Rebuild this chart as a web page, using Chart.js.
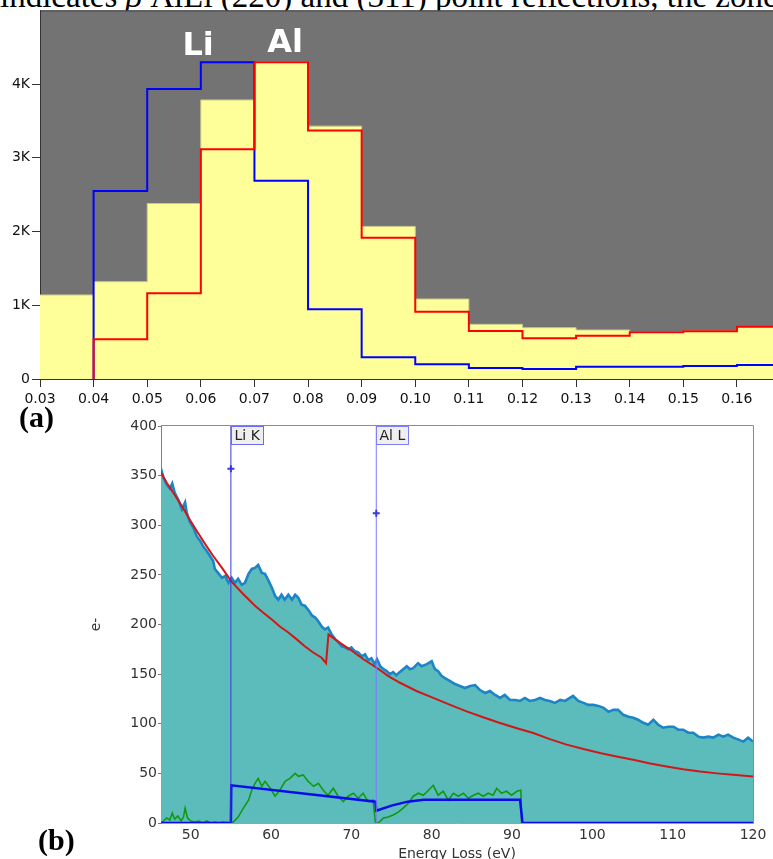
<!DOCTYPE html>
<html><head><meta charset="utf-8">
<script src="https://cdn.jsdelivr.net/npm/chart.js@4.4.1/dist/chart.umd.min.js"></script>
<style>
html,body{margin:0;padding:0;background:#fff;overflow:hidden;width:773px;height:859px;}
#topText{position:absolute;left:0;top:-20px;font:33px 'Liberation Serif',serif;line-height:33px;white-space:nowrap;color:#000;}
#wa{position:absolute;left:0;top:0;width:773px;height:410px;}
#wb{position:absolute;left:0;top:415px;width:773px;height:448px;}
.lab{position:absolute;font:bold 30px 'Liberation Serif',serif;line-height:30px;color:#000;}
</style></head><body>
<div id="topText">indicates <i>β</i> AlLi (220) and (311) point reflections, the zone</div>
<div id="wa"><canvas id="ca" width="773" height="410"></canvas></div>
<div id="wb"><canvas id="cb" width="773" height="448"></canvas></div>
<div class="lab" style="left:19px;top:402px">(a)</div>
<div class="lab" style="left:38px;top:825px">(b)</div>
<script>
// ---------- (a) histogram data ----------
const binStarts = [0.03,0.04,0.05,0.06,0.07,0.08,0.09,0.10,0.11,0.12,0.13,0.14,0.15,0.16];
const binWidth = 0.01;
const totalCounts = [1140,1320,2380,3785,4305,3430,2070,1085,742,696,665,642,655,710];
const alCounts = [0,540,1163,3117,4297,3370,1917,913,651,552,588,633,647,710];
const liCounts = [0,2550,3935,4297,2690,946,294,200,149,136,167,167,176,190];
const xTicksA = [0.03,0.04,0.05,0.06,0.07,0.08,0.09,0.10,0.11,0.12,0.13,0.14,0.15,0.16];
const yTicksA = [0,1000,2000,3000,4000];
const peakLabels = ['Li','Al'];

// ---------- (b) EELS spectrum data ----------
const specE = [46.3,46.6,47.0,47.4,47.7,48.0,48.5,48.9,49.3,49.5,49.9,50.3,50.75,51.2,51.6,52.0,52.4,52.8,53.0,53.4,53.9,54.3,54.7,55.1,55.5,55.9,56.35,56.75,57.2,57.6,58.0,58.4,58.85,59.25,59.7,60.1,60.5,60.9,61.3,61.7,62.15,62.6,63.0,63.4,63.8,64.2,64.6,65.1,65.5,65.9,66.3,66.7,67.1,67.55,68.0,68.4,68.8,69.2,69.6,70.0,70.45,70.85,71.3,71.7,72.1,72.5,72.9,73.2,73.6,74.0,74.4,74.8,75.2,75.6,76.0,76.9,77.3,77.7,78.3,78.75,79.4,80.0,80.4,80.8,81.25,81.65,82.3,82.9,83.5,84.15,84.8,85.4,86.0,86.65,87.25,87.9,88.5,89.1,89.75,90.4,91.0,91.6,92.2,92.85,93.5,94.1,94.7,95.35,96.0,96.6,97.2,97.6,98.25,98.9,99.5,100.1,100.75,101.4,102.0,102.6,103.2,103.85,104.5,105.1,105.7,106.35,106.95,107.6,108.2,108.8,109.45,110.1,110.7,111.3,111.95,112.55,113.2,113.8,114.45,115.05,115.7,116.3,116.9,117.55,118.2,118.8,119.4,120.0];
const specCounts = [357,348,341,337,342,333,325,316,323,313,303,298,289,284,278,274,269,264,256,252,247,249,242,247,242,246,240,242,251,256,257,260,252,251,244,237,229,225,230,225,230,225,230,227,220,219,215,209,207,203,198,195,197,190,185,182,178,177,175,177,173,172,168,170,164,166,160,165,158,155,153,150,152,149,152,158,155,156,161,158,160,163,155,153,148,146,143,140,138,136,138,139,134,131,133,129,126,129,124,124,123,126,123,124,126,124,123,121,124,123,126,128,123,121,119,119,118,116,112,114,114,109,107,106,104,101,99,104,99,96,97,97,94,94,91,91,87,86,87,86,89,87,89,86,84,82,86,82];
const bgE = [46.3,47.0,48.05,49.0,49.7,50.7,51.8,52.8,53.85,55.1,56.5,58.0,59.0,60.1,61.1,62.15,63.2,64.2,65.2,66.3,66.85,67.15,68.5,69.8,71.5,73.15,74.6,76.05,78.1,80.2,82.3,84.35,86.4,88.5,90.6,92.65,94.7,96.8,98.9,100.95,103.0,105.1,107.2,109.25,111.3,113.4,115.5,117.55,120.0];
const bgFit = [353,343,330,318,308,295,281,269,257.5,243,231,219,212,205,198,192,185,178,172,166.5,161,190,182,175,165,156.4,148,141.3,133,126,119,112.5,106.5,100.8,95.5,90.7,84.5,79,74.5,70.5,67,63.7,60,57,54.2,51.9,50,48.5,46.8];
const sigE = [46.3,46.6,47.0,47.4,47.7,48.0,48.4,48.8,49.1,49.3,49.6,50.0,50.5,51.0,51.5,52.0,52.5,53.0,53.5,54.0,55.0,55.3,55.9,56.55,57.2,57.6,58.0,58.4,58.85,59.25,59.9,60.5,61.1,61.75,62.35,63.0,63.4,64.0,64.6,65.3,65.9,66.5,67.1,67.75,68.35,69.0,69.6,70.25,70.85,71.45,72.1,72.7,73.0,73.35,74.0,74.6,75.2,75.85,76.45,77.1,77.7,78.35,78.95,79.6,80.2,80.8,81.45,82.05,82.7,83.3,83.95,84.55,85.2,85.8,86.4,87.05,87.65,88.1,88.7,89.3,89.95,90.6,91.1,91.2,120.0];
const sigCounts = [0,2,5,3,10,4,7,2,6,15,5,2,1,2,0,2,0,1,0,1,0,1,6,15,23,33,40,45,37,42,35,27,33,42,45,50,47,48.5,42,37,40,33,28,35,27,21.5,27,30,25,30,21.5,23,0,0,5,6,8,11,15,20,27,30,28,33,38,28,32,23,30,27,30,25,28,30,27,30,28,35,30,32,28,32,33,0,0];
const modelE = [46.3,55.0,55.05,73.0,73.1,75.0,77.0,79.0,91.0,91.3,120.0];
const modelCounts = [0,0,38,21.5,12.4,17.5,21.5,23.5,23.5,0,0];
const edgeNames = ['Li K','Al L'];
const edgeE = [55.0,73.1];
const edgeMarkerCounts = [357,312];
const xTicksB = [50,60,70,80,90,100,110,120];
const yTicksB = [0,50,100,150,200,250,300,350,400];

// ---------- helpers ----------
function stepPoints(starts, vals, w, fromZero){
  const pts = [];
  let first = true;
  starts.forEach((s,i)=>{
    if (vals[i] === 0 && first && fromZero) return;
    if (first && fromZero) pts.push({x:s,y:0});
    first = false;
    pts.push({x:s,y:vals[i]});
  });
  pts.push({x:starts[starts.length-1]+w, y:vals[vals.length-1]});
  return pts;
}
const xy = (xs, ys) => xs.map((x,i)=>({x:x,y:ys[i]}));

const plotBg = {
  id:'plotBg',
  beforeDraw(chart, args, opts){
    if(!opts.color) return;
    const {ctx, chartArea:a} = chart;
    ctx.save();
    ctx.fillStyle = opts.color;
    ctx.fillRect(a.left, a.top, a.right-a.left, a.bottom-a.top);
    if (opts.topLine){
      ctx.strokeStyle = opts.topLine; ctx.lineWidth = 1;
      ctx.beginPath(); ctx.moveTo(a.left, a.top+0.5); ctx.lineTo(a.right, a.top+0.5); ctx.stroke();
    }
    ctx.restore();
  }
};
const frame = {
  id:'frame',
  afterDatasetsDraw(chart, args, opts){
    if(!opts.color) return;
    const {ctx, chartArea:a} = chart;
    ctx.save();
    ctx.strokeStyle = opts.color; ctx.lineWidth = 1;
    ctx.beginPath();
    ctx.moveTo(a.left, a.top-0.5); ctx.lineTo(a.right+0.5, a.top-0.5); ctx.lineTo(a.right+0.5, a.bottom);
    ctx.stroke();
    ctx.restore();
  }
};
const peakText = {
  id:'peakText',
  afterDatasetsDraw(chart, args, opts){
    if(!opts.items) return;
    const {ctx} = chart;
    const xs = chart.scales.x, ys = chart.scales.y;
    ctx.save();
    ctx.fillStyle = '#ffffff';
    ctx.font = 'bold 32px "DejaVu Sans"';
    ctx.textAlign = 'center'; ctx.textBaseline = 'alphabetic';
    opts.items.forEach(it=>{
      ctx.fillText(it.text, xs.getPixelForValue(it.x), ys.getPixelForValue(it.y));
    });
    ctx.restore();
  }
};
const edgeLabels = {
  id:'edgeLabels',
  afterDatasetsDraw(chart, args, opts){
    if(!opts.names) return;
    const {ctx, chartArea:a} = chart;
    const xs = chart.scales.x;
    ctx.save();
    ctx.font = '14px "DejaVu Sans"';
    ctx.textBaseline = 'middle'; ctx.textAlign = 'left';
    opts.names.forEach((n,i)=>{
      const x = Math.round(xs.getPixelForValue(opts.energies[i]));
      const w = Math.ceil(ctx.measureText(n).width) + 6;
      ctx.fillStyle = 'rgba(238,238,238,0.95)';
      ctx.fillRect(x+0.5, a.top+0.5, w, 18);
      ctx.strokeStyle = opts.colors[i]; ctx.lineWidth = 1;
      ctx.strokeRect(x+0.5, a.top+0.5, w, 18);
      ctx.fillStyle = '#222';
      ctx.fillText(n, x+3.5, a.top+10);
    });
    ctx.restore();
  }
};

// ---------- chart (a) ----------
new Chart(document.getElementById('ca'), {
  type:'line',
  data:{datasets:[
    {data:stepPoints(binStarts, alCounts, binWidth, true), stepped:'before', borderColor:'#ff0000', borderWidth:2, pointRadius:0, fill:false},
    {data:stepPoints(binStarts, liCounts, binWidth, true), stepped:'before', borderColor:'#0000ff', borderWidth:2, pointRadius:0, fill:false},
    {data:stepPoints(binStarts, totalCounts, binWidth, false), stepped:'before', borderColor:'#c9c98a', borderWidth:1, pointRadius:0, fill:'origin', backgroundColor:'#ffff99'}
  ]},
  options:{
    responsive:false, animation:false, devicePixelRatio:1,
    layout:{padding:{top:10,left:0,right:0,bottom:0}},
    plugins:{legend:{display:false}, tooltip:{enabled:false},
      plotBg:{color:'#737373', topLine:'#3a3a3a'},
      peakText:{items:[{text:peakLabels[0], x:0.0595, y:4390},{text:peakLabels[1], x:0.0757, y:4430}]}
    },
    scales:{
      x:{type:'linear', min:0.03, max:0.16673, z:1,
        afterBuildTicks:s=>{s.ticks = xTicksA.map(v=>({value:v}));},
        afterFit:s=>{s.height = 31;},
        grid:{drawOnChartArea:false, drawTicks:true, tickLength:8, color:'#333'},
        border:{display:true, color:'#333', width:1},
        ticks:{padding:4, color:'#111', font:{family:'DejaVu Sans', size:14}, maxRotation:0, autoSkip:false,
          callback:v=>v.toFixed(2)}
      },
      y:{type:'linear', min:0, max:5000, z:1,
        afterBuildTicks:s=>{s.ticks = yTicksA.map(v=>({value:v}));},
        afterFit:s=>{s.width = 40;},
        grid:{drawOnChartArea:false, drawTicks:true, tickLength:8, color:'#333'},
        border:{display:true, color:'#333', width:1},
        ticks:{padding:2, color:'#111', font:{family:'DejaVu Sans', size:14},
          callback:v=> v===0 ? '0' : (v/1000)+'K'}
      }
    }
  },
  plugins:[plotBg, peakText]
});

// ---------- chart (b) ----------
const edgeColors = ['#3a3ad8','#7a7aff'];
const edgeLineSets = edgeE.map((e,i)=>({
  data:[{x:e,y:0},{x:e,y:400}], borderColor:edgeColors[i], borderWidth:1, pointRadius:0, fill:false
}));
new Chart(document.getElementById('cb'), {
  type:'line',
  data:{datasets:[
    {data:xy(edgeE, edgeMarkerCounts), showLine:false, pointStyle:'cross', pointRadius:3.5, pointBorderWidth:2, borderColor:'#3a3ad8', backgroundColor:'#3a3ad8'},
    ...edgeLineSets,
    {data:xy(modelE, modelCounts), borderColor:'#0a0aee', borderWidth:2.5, pointRadius:0, fill:false},
    {data:xy(sigE, sigCounts), borderColor:'#119911', borderWidth:1.6, pointRadius:0, fill:false},
    {data:xy(bgE, bgFit), borderColor:'#d01818', borderWidth:2, pointRadius:0, fill:false},
    {data:xy(specE, specCounts), borderColor:'#1d84c6', borderWidth:2.6, pointRadius:0, fill:'origin', backgroundColor:'#5cbcbb'}
  ]},
  options:{
    responsive:false, animation:false, devicePixelRatio:1,
    layout:{padding:{top:11,left:0,right:20,bottom:0}},
    plugins:{legend:{display:false}, tooltip:{enabled:false},
      frame:{color:'#8c8c8c'},
      edgeLabels:{names:edgeNames, energies:edgeE, colors:['#6b6bf0','#7f7ff5']}
    },
    scales:{
      x:{type:'linear', min:46.3, max:120, z:1,
        afterBuildTicks:s=>{s.ticks = xTicksB.map(v=>({value:v}));},
        afterFit:s=>{s.height = 40;},
        grid:{drawOnChartArea:false, drawTicks:false},
        border:{display:true, color:'#a0a0a0', width:1},
        ticks:{padding:4, color:'#333', font:{family:'DejaVu Sans', size:14}, maxRotation:0, autoSkip:false},
        title:{display:true, text:'Energy Loss (eV)', color:'#333', font:{family:'DejaVu Sans', size:14}, padding:{top:0,bottom:0}}
      },
      y:{type:'linear', min:0, max:400, z:1,
        afterBuildTicks:s=>{s.ticks = yTicksB.map(v=>({value:v}));},
        afterFit:s=>{s.width = 161;},
        grid:{drawOnChartArea:false, drawTicks:true, tickLength:3, color:'#777'},
        border:{display:true, color:'#808080', width:1},
        ticks:{padding:1, color:'#333', font:{family:'DejaVu Sans', size:14}},
        title:{display:true, text:'e-', color:'#333', font:{family:'DejaVu Sans', size:14}, padding:{top:88,bottom:0}}
      }
    }
  },
  plugins:[frame, edgeLabels]
});
</script>
</body></html>
